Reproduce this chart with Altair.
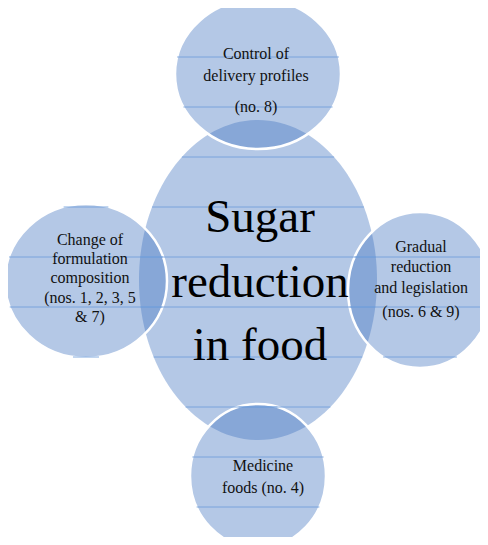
import altair as alt
import pandas as pd

# ellipse geometry (diagram units = reference pixels)
shape_names = ["center", "top", "left", "right", "bottom"]
shape_cx = [258, 258, 86, 420, 258]
shape_cy = [280, 74, 281, 290, 476]
shape_rx = [119, 83, 81, 72, 68]
shape_ry = [160, 75, 77, 78, 72]

# horizontal ruled lines of the fill texture
line_y = [57, 107, 157, 207, 257, 307, 357, 407, 457, 507]

# texts
center_text = ["Sugar", "reduction", "in food"]
center_x = [260, 260, 260]
center_y = [232, 297, 360]

sat_text = ["Control of", "delivery profiles", "(no. 8)",
            "Change of", "formulation", "composition", "(nos. 1, 2, 3, 5", "& 7)",
            "Gradual", "reduction", "and legislation", "(nos. 6 & 9)",
            "Medicine", "foods (no. 4)"]
sat_x = [256, 256, 256,
         90, 90, 90, 90, 90,
         421, 421, 421, 421,
         263, 263]
sat_y = [59, 81, 112,
         245, 264, 283, 303, 322,
         252, 272, 293, 317,
         471, 493]

K = 0.5523


def ellipse_path(rx, ry):
    r = max(rx, ry)
    a, b = rx / r, ry / r
    f = lambda v: f"{v:.4f}"
    return (f"M{f(-a)},0C{f(-a)},{f(-K*b)} {f(-K*a)},{f(-b)} 0,{f(-b)}"
            f"C{f(K*a)},{f(-b)} {f(a)},{f(-K*b)} {f(a)},0"
            f"C{f(a)},{f(K*b)} {f(K*a)},{f(b)} 0,{f(b)}"
            f"C{f(-K*a)},{f(b)} {f(-a)},{f(K*b)} {f(-a)},0Z")


shapes = pd.DataFrame({
    "name": shape_names, "cx": shape_cx, "cy": shape_cy,
    "rx": shape_rx, "ry": shape_ry,
})
shapes["path"] = [ellipse_path(rx, ry) for rx, ry in zip(shape_rx, shape_ry)]
shapes["size"] = [(2 * max(rx, ry)) ** 2 for rx, ry in zip(shape_rx, shape_ry)]

lines = pd.DataFrame([
    {"ly": y, "cx": cx, "cy": cy, "rx": rx, "ry": ry}
    for y in line_y
    for cx, cy, rx, ry in zip(shape_cx, shape_cy, shape_rx, shape_ry)
])

center_df = pd.DataFrame({"t": center_text, "x": center_x, "y": center_y})
sat_df = pd.DataFrame({"t": sat_text, "x": sat_x, "y": sat_y})

W, H = 472, 529
xs = alt.Scale(domain=[8, 8 + W])
ys = alt.Scale(domain=[8, 8 + H], reverse=True)

FILL = "#4476c1"

def ellipse_layer(df, stroke_w):
    return alt.Chart(df).mark_point(
        filled=True, fill=FILL, fillOpacity=0.4, opacity=1,
        stroke="white", strokeWidth=stroke_w, strokeOpacity=1,
    ).encode(
        x=alt.X("cx:Q", scale=xs, axis=None),
        y=alt.Y("cy:Q", scale=ys, axis=None),
        shape=alt.Shape("path:N", scale=None),
        size=alt.Size("size:Q", scale=None),
    )

center_layer = ellipse_layer(shapes[shapes["name"] == "center"], 0)
sat_layer = ellipse_layer(shapes[shapes["name"] != "center"], 2.5)

rules = alt.Chart(lines).transform_calculate(
    d="(datum.ly - datum.cy) / datum.ry"
).transform_filter(
    "abs(datum.d) < 1"
).transform_calculate(
    hw="datum.rx * sqrt(1 - datum.d * datum.d)"
).transform_calculate(
    x1="datum.cx - datum.hw", x2="datum.cx + datum.hw"
).mark_rule(color="#6f9ddb", strokeWidth=1, opacity=0.85).encode(
    x=alt.X("x1:Q", scale=xs, axis=None),
    x2="x2:Q",
    y=alt.Y("ly:Q", scale=ys, axis=None),
)

center_txt = alt.Chart(center_df).mark_text(
    font="Liberation Serif", fontSize=47, color="black",
    align="center", baseline="alphabetic",
).encode(
    x=alt.X("x:Q", scale=xs, axis=None),
    y=alt.Y("y:Q", scale=ys, axis=None),
    text="t:N",
)

sat_txt = alt.Chart(sat_df).mark_text(
    font="Liberation Serif", fontSize=16, color="#111111",
    align="center", baseline="alphabetic",
).encode(
    x=alt.X("x:Q", scale=xs, axis=None),
    y=alt.Y("y:Q", scale=ys, axis=None),
    text="t:N",
)

chart = alt.layer(center_layer, sat_layer, rules, center_txt, sat_txt).properties(
    width=W, height=H, padding=0,
    autosize=alt.AutoSizeParams(type="none"),
).configure_view(stroke=None)

chart.save("out.html", embed_options={"renderer": "svg", "actions": False})
